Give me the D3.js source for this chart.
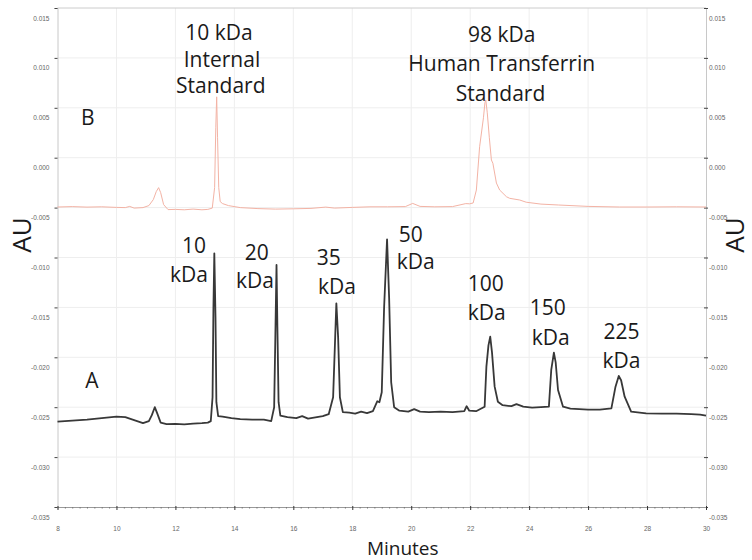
<!DOCTYPE html>
<html>
<head>
<meta charset="utf-8">
<script src="https://cdn.jsdelivr.net/npm/d3@7"></script>
<style>
  body { margin: 0; background: #fff; }
  svg { display: block; }
</style>
</head>
<body>
<svg id="chart" width="752" height="560"></svg>
<script>
// axis ticks
const xTicks = [8, 10, 12, 14, 16, 18, 20, 22, 24, 26, 28, 30];
const yTicks = [0.015, 0.010, 0.005, 0.000, -0.005, -0.010, -0.015, -0.020, -0.025, -0.030, -0.035];
const yTickLabels = ["0.015", "0.010", "0.005", "0.000", "-0.005", "-0.010", "-0.015", "-0.020", "-0.025", "-0.030", "-0.035"];

// trace B (standards run), [minutes, AU]
const traceB = [
  [8.0, -0.00494], [8.5, -0.00490], [9.0, -0.00495], [9.5, -0.00492], [10.0, -0.00498],
  [10.3, -0.00500], [10.45, -0.00488], [10.6, -0.00505], [10.9, -0.00500], [11.1, -0.00480],
  [11.25, -0.00420], [11.35, -0.00340], [11.43, -0.00300], [11.5, -0.00350], [11.6, -0.00470],
  [11.75, -0.00520], [12.0, -0.00518], [12.3, -0.00522], [12.6, -0.00515], [12.9, -0.00522],
  [13.1, -0.00518], [13.25, -0.00505], [13.33, -0.00300], [13.37, 0.00300], [13.40, 0.00610],
  [13.43, 0.00200], [13.47, -0.00300], [13.52, -0.00440], [13.6, -0.00460], [13.8, -0.00480],
  [14.2, -0.00500], [14.8, -0.00510], [15.4, -0.00515], [16.0, -0.00512], [16.6, -0.00508],
  [17.1, -0.00495], [17.4, -0.00505], [18.0, -0.00498], [18.6, -0.00492], [19.2, -0.00492],
  [19.8, -0.00490], [20.05, -0.00458], [20.3, -0.00488], [20.8, -0.00492], [21.4, -0.00490],
  [21.85, -0.00460], [21.98, -0.00462], [22.1, -0.00454], [22.21, -0.00324], [22.32, 0.00110],
  [22.45, 0.00400], [22.5, 0.00550], [22.53, 0.00578], [22.58, 0.00450], [22.65, 0.00200],
  [22.72, -0.00023], [22.77, -0.00056], [22.89, -0.00254], [23.0, -0.00324], [23.23, -0.00391],
  [23.34, -0.00407], [23.68, -0.00424], [23.9, -0.00446], [24.4, -0.00465], [25.0, -0.00474],
  [26.0, -0.00488], [27.07, -0.00494], [28.0, -0.00494], [29.0, -0.00492], [30.0, -0.00494]
];

// trace A (molecular weight ladder), [minutes, AU]
const traceA = [
  [8.0, -0.02645], [8.5, -0.02635], [9.0, -0.02625], [9.5, -0.02610], [10.0, -0.02595],
  [10.3, -0.02600], [10.6, -0.02630], [10.9, -0.02660], [11.1, -0.02640], [11.2, -0.02580],
  [11.3, -0.02500], [11.38, -0.02560], [11.5, -0.02655], [11.7, -0.02670], [12.0, -0.02668],
  [12.3, -0.02672], [12.6, -0.02665], [12.9, -0.02660], [13.1, -0.02655], [13.2, -0.02640],
  [13.26, -0.02400], [13.29, -0.01500], [13.32, -0.00958], [13.36, -0.01600], [13.39, -0.02450],
  [13.45, -0.02590], [13.6, -0.02595], [13.9, -0.02610], [14.2, -0.02620], [14.6, -0.02625],
  [15.0, -0.02625], [15.25, -0.02640], [15.35, -0.02500], [15.39, -0.01800], [15.43, -0.01075],
  [15.46, -0.01700], [15.5, -0.02450], [15.56, -0.02585], [15.8, -0.02600], [16.1, -0.02610],
  [16.3, -0.02590], [16.5, -0.02615], [16.8, -0.02600], [17.0, -0.02590], [17.2, -0.02570],
  [17.35, -0.02400], [17.42, -0.01800], [17.46, -0.01459], [17.52, -0.01800], [17.58, -0.02400],
  [17.68, -0.02550], [17.9, -0.02555], [18.1, -0.02565], [18.3, -0.02545], [18.5, -0.02560],
  [18.7, -0.02540], [18.85, -0.02440], [18.92, -0.02450], [19.0, -0.02350], [19.08, -0.01500],
  [19.18, -0.00818], [19.25, -0.01400], [19.32, -0.02250], [19.42, -0.02500], [19.6, -0.02535],
  [19.9, -0.02545], [20.1, -0.02520], [20.3, -0.02545], [20.6, -0.02550], [21.0, -0.02545],
  [21.4, -0.02550], [21.8, -0.02540], [21.88, -0.02490], [21.97, -0.02535], [22.2, -0.02540],
  [22.49, -0.02495], [22.55, -0.02094], [22.62, -0.01880], [22.68, -0.01793], [22.74, -0.01950],
  [22.83, -0.02294], [22.94, -0.02445], [23.1, -0.02480], [23.4, -0.02490], [23.57, -0.02470],
  [23.8, -0.02495], [24.1, -0.02505], [24.4, -0.02500], [24.67, -0.02495], [24.75, -0.02127],
  [24.84, -0.01954], [24.9, -0.02050], [24.98, -0.02328], [25.15, -0.02495], [25.4, -0.02515],
  [25.7, -0.02520], [26.0, -0.02525], [26.4, -0.02525], [26.79, -0.02511], [26.93, -0.02294],
  [27.04, -0.02187], [27.12, -0.02230], [27.24, -0.02395], [27.46, -0.02545], [27.97, -0.02561],
  [28.5, -0.02565], [29.0, -0.02565], [29.5, -0.02570], [29.8, -0.02575], [30.0, -0.02585]
];

// text annotations, one entry per label, lines as [text, minutes, AU of baseline]
const peakLabels = [
  [["10", 12.63, -0.00955], ["kDa", 12.46, -0.01245]],
  [["20", 14.76, -0.01025], ["kDa", 14.70, -0.01306]],
  [["35", 17.20, -0.01075], ["kDa", 17.48, -0.01366]],
  [["50", 19.98, -0.00845], ["kDa", 20.15, -0.01115]],
  [["100", 22.53, -0.01336], ["kDa", 22.56, -0.01626]],
  [["150", 24.63, -0.01576], ["kDa", 24.73, -0.01877]],
  [["225", 27.13, -0.01817], ["kDa", 27.13, -0.02107]]
];
const standardLabels = [
  [["10 kDa", 13.48, 0.01179], ["Internal", 13.58, 0.00909], ["Standard", 13.54, 0.00648]],
  [["98 kDa", 23.07, 0.01159], ["Human Transferrin", 23.07, 0.00869], ["Standard", 23.03, 0.00568]]
];
const traceLabels = [[["B", 9.03, 0.00328]], [["A", 9.17, -0.02308]]];

const svg = d3.select("#chart");
const plotLeft = 57.5, plotRight = 706, plotTop = 8, plotBottom = 507;

const x = d3.scaleLinear().domain([8, 30]).range([plotLeft, plotRight]);
const y = d3.scaleLinear().domain([-0.035, 0.015]).range([plotBottom, plotTop]);

svg.append("rect").attr("width", 752).attr("height", 560).attr("fill", "#fff");

// faint grid
svg.append("g").selectAll("line").data(xTicks.slice(1, -1)).enter()
  .append("line")
  .attr("x1", d => x(d)).attr("x2", d => x(d))
  .attr("y1", plotTop).attr("y2", plotBottom)
  .attr("stroke", "#eeeeee").attr("stroke-width", 1);
svg.append("g").selectAll("line").data(yTicks.slice(1, -1)).enter()
  .append("line")
  .attr("x1", plotLeft).attr("x2", plotRight)
  .attr("y1", d => y(d)).attr("y2", d => y(d))
  .attr("stroke", "#eeeeee").attr("stroke-width", 1);

// top frame line
svg.append("line")
  .attr("x1", plotLeft).attr("x2", plotRight).attr("y1", plotTop).attr("y2", plotTop)
  .attr("stroke", "#cccccc");

const tickFont = "'Liberation Sans', Arial, sans-serif";

// left axis
const gLeft = svg.append("g").attr("transform", "translate(" + plotLeft + ",0)")
  .call(d3.axisLeft(y).tickValues(yTicks).tickSize(3).tickPadding(5)
    .tickFormat((d, i) => yTickLabels[i]));
gLeft.select(".domain").attr("stroke", "#c8c8c8");
gLeft.selectAll(".tick line").attr("stroke", "#444");
gLeft.selectAll(".tick text").attr("y", 10).attr("fill", "#666")
  .style("font", "6.5px " + tickFont);

// right axis
const gRight = svg.append("g").attr("transform", "translate(" + plotRight + ",0)")
  .call(d3.axisRight(y).tickValues(yTicks).tickSize(2).tickPadding(1)
    .tickFormat((d, i) => yTickLabels[i]));
gRight.select(".domain").attr("stroke", "#c8c8c8");
gRight.selectAll(".tick line").attr("stroke", "#444").attr("x1", -2);
gRight.selectAll(".tick text").attr("y", 10).attr("fill", "#666")
  .style("font", "6.5px " + tickFont);

// bottom axis, minor then major
const minorTicks = d3.range(8, 30.001, 0.25).filter(d => !xTicks.includes(d));
const gMinor = svg.append("g").attr("transform", "translate(0," + plotBottom + ")")
  .call(d3.axisBottom(x).tickValues(minorTicks).tickSize(1.5).tickFormat(""));
gMinor.select(".domain").attr("stroke", "#999");
gMinor.selectAll(".tick line").attr("stroke", "#777");

const gBottom = svg.append("g").attr("transform", "translate(0," + plotBottom + ")")
  .call(d3.axisBottom(x).tickValues(xTicks).tickSize(3).tickPadding(16));
gBottom.select(".domain").remove();
gBottom.selectAll(".tick line").attr("stroke", "#333").attr("y1", -1);
gBottom.selectAll(".tick text").attr("fill", "#666")
  .style("font", "6.5px " + tickFont);

// traces
const line = d3.line().x(d => x(d[0])).y(d => y(d[1]));

svg.append("path").datum(traceB)
  .attr("d", line)
  .attr("fill", "none")
  .attr("stroke", "#f3b3a5")
  .attr("stroke-width", 1)
  .attr("stroke-linejoin", "round");

svg.append("path").datum(traceA)
  .attr("d", line)
  .attr("fill", "none")
  .attr("stroke", "#383838")
  .attr("stroke-width", 1.8)
  .attr("stroke-linejoin", "round");

// labels: one text per label, one tspan per line
const labelFont = "'Open Sans', 'Noto Sans', sans-serif";
function addLabels(list, size) {
  const texts = svg.append("g").selectAll("text").data(list).enter()
    .append("text")
    .attr("text-anchor", "middle")
    .attr("fill", "#1a1a1a")
    .style("font-family", labelFont)
    .style("font-size", size + "px");
  texts.selectAll("tspan").data(d => d).enter()
    .append("tspan")
    .attr("x", d => x(d[1]))
    .attr("y", d => y(d[2]))
    .text(d => d[0]);
}
addLabels(peakLabels, 21);
addLabels(standardLabels, 21);
addLabels(traceLabels, 21);

// axis titles
svg.append("text")
  .attr("x", (plotLeft + plotRight) / 2 + 21).attr("y", 555)
  .attr("text-anchor", "middle").attr("fill", "#1a1a1a")
  .style("font-family", labelFont).style("font-size", "19px")
  .text("Minutes");

svg.append("text")
  .attr("transform", "translate(31,235) rotate(-90)")
  .attr("text-anchor", "middle").attr("fill", "#1a1a1a")
  .style("font-family", labelFont).style("font-size", "26px")
  .text("AU");

svg.append("text")
  .attr("transform", "translate(744,235) rotate(-90)")
  .attr("text-anchor", "middle").attr("fill", "#1a1a1a")
  .style("font-family", labelFont).style("font-size", "26px")
  .text("AU");
</script>
</body>
</html>
